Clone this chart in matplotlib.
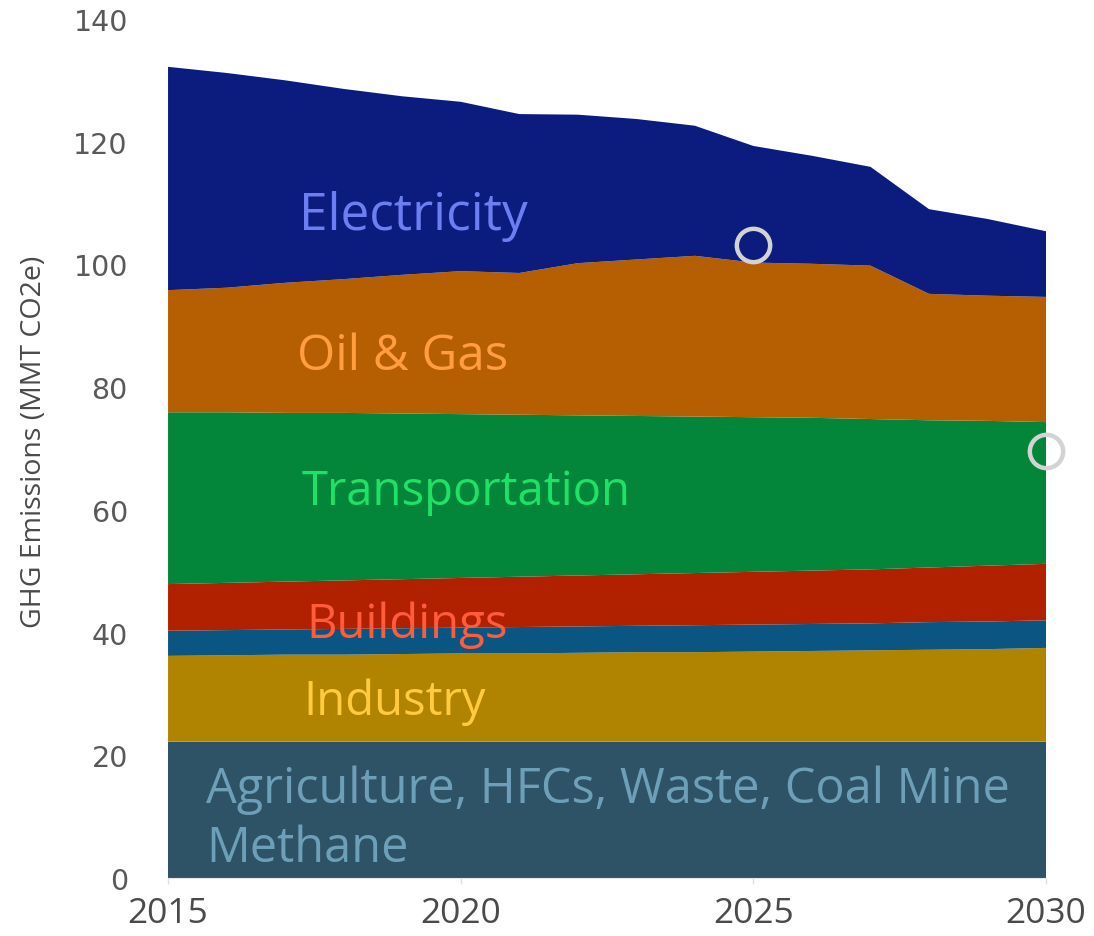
import matplotlib
matplotlib.use("Agg")
import matplotlib.pyplot as plt
import numpy as np

# ── Dati (MMT CO2e per settore, dal basso verso l'alto) ─────────────────────
anni = [2015, 2016, 2017, 2018, 2019, 2020, 2021, 2022,
        2023, 2024, 2025, 2026, 2027, 2028, 2029, 2030]

agricoltura = [22.2, 22.2, 22.2, 22.2, 22.2, 22.2, 22.2, 22.2,
               22.2, 22.2, 22.2, 22.2, 22.2, 22.2, 22.2, 22.2]
industria = [14.0, 14.1, 14.2, 14.2, 14.3, 14.4, 14.4, 14.5,
             14.6, 14.6, 14.7, 14.8, 14.9, 15.0, 15.1, 15.3]
banda_blu = [4.1, 4.1, 4.1, 4.2, 4.2, 4.2, 4.3, 4.3,
             4.3, 4.4, 4.4, 4.4, 4.4, 4.5, 4.5, 4.5]
edifici = [7.6, 7.7, 7.8, 7.9, 8.0, 8.1, 8.2, 8.3,
           8.4, 8.5, 8.6, 8.7, 8.8, 8.9, 9.1, 9.2]
trasporti = [28.0, 27.8, 27.5, 27.3, 27.0, 26.7, 26.4, 26.1,
             25.8, 25.5, 25.2, 24.9, 24.5, 24.0, 23.6, 23.1]
oil_gas = [19.9, 20.3, 21.2, 21.8, 22.6, 23.3, 23.1, 24.8,
           25.5, 26.2, 25.2, 25.1, 25.0, 20.6, 20.4, 20.4]
elettricita = [36.4, 35.0, 33.0, 31.0, 29.1, 27.6, 25.9, 24.2,
               22.9, 21.2, 19.0, 17.6, 16.1, 13.8, 12.5, 10.7]

# cerchi evidenziati (anno, valore)
cerchi_x = [2025, 2030]
cerchi_y = [103.2, 69.6]

y_ticks = [0, 20, 40, 60, 80, 100, 120, 140]
x_ticks = [2015, 2020, 2025, 2030]

# ── Colori ──────────────────────────────────────────────────────────────────
COL_FILL = ["#2e5266", "#b18400", "#0b5582", "#b12100",
            "#03863a", "#b55f02", "#0b1c7e"]
COL_TXT = {
    "agr": "#6e9fb8", "ind": "#ffcb3c", "bld": "#ff5c3a",
    "tra": "#1de265", "oil": "#ff9d3f", "ele": "#6d7ef2",
}

fig = plt.figure(figsize=(10.94, 9.37), dpi=100)
ax = fig.add_axes([0.1536, 0.0619, 0.8026, 0.9168])

ax.stackplot(anni, agricoltura, industria, banda_blu, edifici,
             trasporti, oil_gas, elettricita, colors=COL_FILL,
             linewidth=0, zorder=2)

ax.plot(cerchi_x, cerchi_y, linestyle="none", marker="o", markersize=24,
        markerfacecolor="none", markeredgecolor="#d3d3d3",
        markeredgewidth=3.2, clip_on=False, zorder=5)

# ── Etichette settori ───────────────────────────────────────────────────────
LBL = dict(family="Open Sans", fontsize=34, va="center", ha="left", zorder=6)
ax.text(2017.24, 107.9, "Electricity", color=COL_TXT["ele"],
        **{**LBL, "fontsize": 37})
ax.text(2017.21, 85.1, "Oil & Gas", color=COL_TXT["oil"],
        **{**LBL, "fontsize": 35.5})
ax.text(2017.29, 63.1, "Transportation", color=COL_TXT["tra"], **LBL)
ax.text(2017.36, 41.4, "Buildings", color=COL_TXT["bld"], **LBL)
ax.text(2017.32, 28.8, "Industry", color=COL_TXT["ind"], **LBL)
ax.text(2015.65, 14.5, "Agriculture, HFCs, Waste, Coal Mine",
        color=COL_TXT["agr"], family="Open Sans", fontsize=35,
        va="center", ha="left", zorder=6)
ax.text(2015.65, 4.8, "Methane", color=COL_TXT["agr"], family="Open Sans",
        fontsize=35, va="center", ha="left", zorder=6)

# ── Assi ────────────────────────────────────────────────────────────────────
ax.set_xlim(2015, 2030)
ax.set_ylim(0, 140)
ax.set_yticks(y_ticks)
ax.set_yticklabels([str(v) for v in y_ticks], family="DejaVu Sans",
                   fontsize=20.5, color="#595959")
ax.set_xticks(x_ticks)
ax.set_xticklabels([str(v) for v in x_ticks], family="Open Sans",
                   fontsize=25.5, color="#4a4a4a")
ax.tick_params(axis="y", length=0, pad=29)
ax.tick_params(axis="x", length=4, width=1, color="#e0e0e0", pad=9)
for lato in ["top", "right", "left"]:
    ax.spines[lato].set_visible(False)
ax.spines["bottom"].set_color("#e6e6e6")
ax.set_ylabel("GHG Emissions (MMT CO2e)", family="Open Sans",
              fontsize=20.5, color="#4a4a4a")
ax.yaxis.set_label_coords(-0.137, 0.509)

fig.savefig("out.png", dpi=100, facecolor="white")
